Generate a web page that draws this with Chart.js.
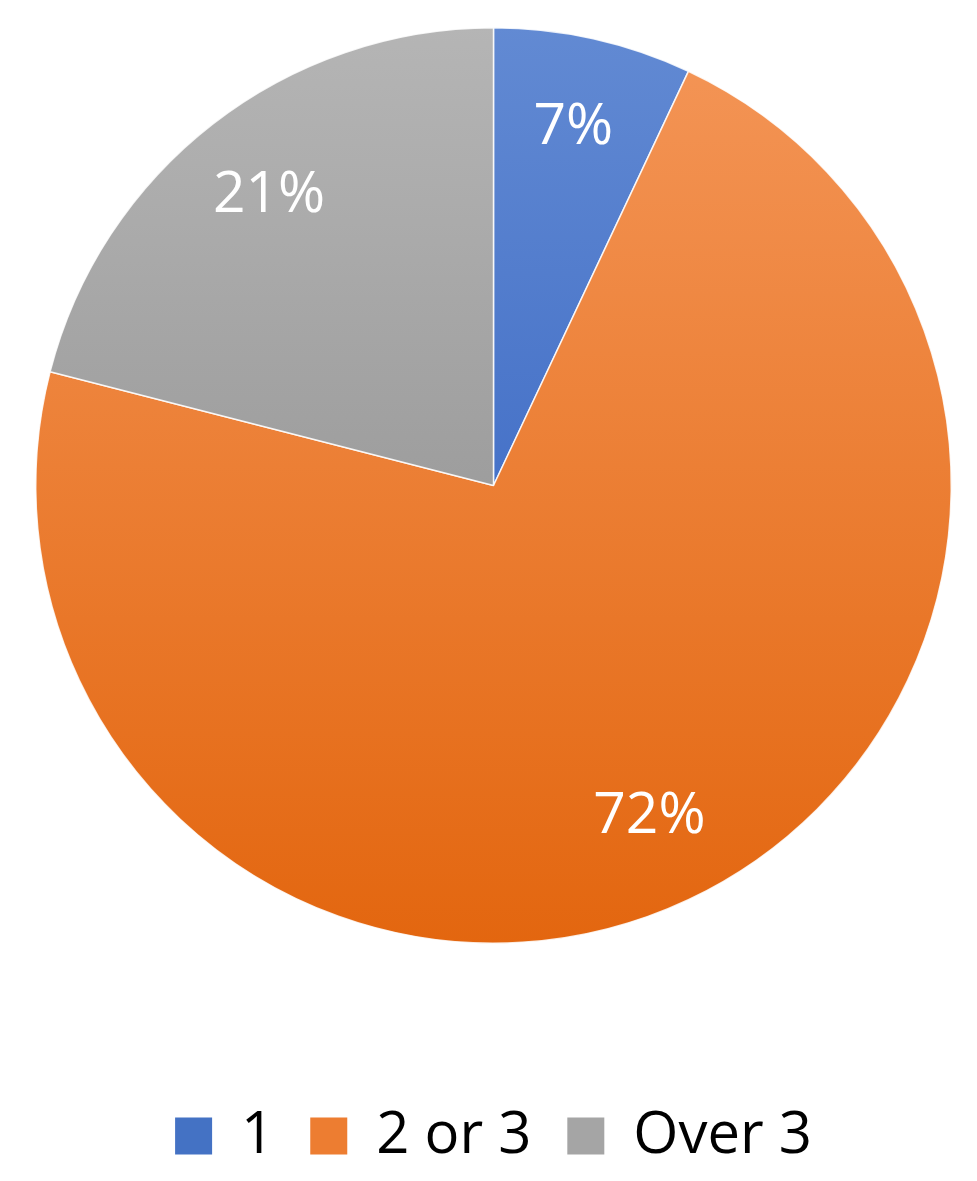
<!DOCTYPE html>
<html>
<head>
<meta charset="utf-8">
<script src="https://cdn.jsdelivr.net/npm/chart.js@4/dist/chart.umd.min.js"></script>
<style>
  html, body { margin: 0; padding: 0; background: #fff; }
  #wrap { width: 977px; height: 1181px; }
</style>
</head>
<body>
<div id="wrap"><canvas id="chart"></canvas></div>
<script>
const categories = ["1", "2 or 3", "Over 3"];
const shares = [7, 72, 21];
const pctLabels = ["7%", "72%", "21%"];

// vertical gradient per slice, lighter at the top
const topColors = ["#628AD3", "#F49658", "#B5B5B5"];
const bottomColors = ["#2A5ABD", "#E3660F", "#868686"];
const midColors = ["#4472C4", "#ED7D31", "#A5A5A5"];

const FONT = "'Open Sans', 'DejaVu Sans', sans-serif";

function sliceFill(ctx) {
  const chart = ctx.chart;
  const area = chart.chartArea;
  const i = ctx.dataIndex;
  if (!area) return midColors[i];
  const g = chart.ctx.createLinearGradient(0, area.top, 0, area.bottom);
  g.addColorStop(0, topColors[i]);
  g.addColorStop(1, bottomColors[i]);
  return g;
}

// percent labels inside the slices
const sliceLabels = {
  id: "sliceLabels",
  afterDatasetsDraw(chart) {
    const meta = chart.getDatasetMeta(0);
    const c = chart.ctx;
    c.save();
    c.font = "57px " + FONT;
    c.fillStyle = "#ffffff";
    c.textAlign = "center";
    c.textBaseline = "middle";
    meta.data.forEach((arc, i) => {
      const p = arc.getProps(["x", "y", "startAngle", "endAngle", "outerRadius"], true);
      const mid = (p.startAngle + p.endAngle) / 2;
      const r = p.outerRadius * 0.8;
      c.fillText(pctLabels[i], p.x + Math.cos(mid) * r, p.y + Math.sin(mid) * r);
    });
    c.restore();
  }
};

new Chart(document.getElementById("chart"), {
  type: "pie",
  data: {
    labels: categories,
    datasets: [{
      data: shares,
      backgroundColor: sliceFill,
      borderColor: "rgba(255,255,255,0.85)",
      borderWidth: 1.5
    }]
  },
  options: {
    responsive: true,
    maintainAspectRatio: false,
    animation: false,
    layout: { padding: { top: 25, left: 35, right: 25, bottom: 6 } },
    plugins: {
      tooltip: { enabled: false },
      legend: {
        position: "bottom",
        title: { display: true, text: " ", font: { size: 10 }, padding: { top: 113, bottom: 0 } },
        labels: {
          boxWidth: 37,
          boxHeight: 37,
          padding: 36,
          color: "#000",
          font: { family: FONT, size: 58 },
          generateLabels(chart) {
            return categories.map((t, i) => ({
              text: t,
              fillStyle: midColors[i],
              strokeStyle: midColors[i],
              fontColor: "#000",
              lineWidth: 0,
              index: i
            }));
          }
        }
      }
    }
  },
  plugins: [sliceLabels]
});
</script>
</body>
</html>
